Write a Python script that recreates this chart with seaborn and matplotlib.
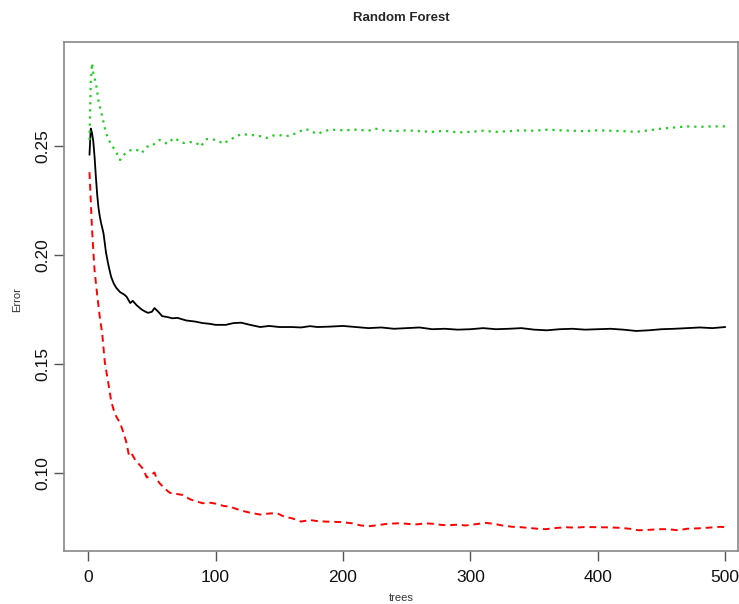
import numpy as np
import pandas as pd
import seaborn as sns
import matplotlib
matplotlib.use("Agg")
import matplotlib.pyplot as plt

# OOB error (black)
oob_trees = [1, 2, 3, 4, 5, 6, 7, 8, 9, 10, 12, 14, 16, 18, 20, 22, 25, 28, 30, 33, 35, 38,
             42, 45, 47, 50, 52, 55, 58, 62, 66, 70, 77, 84, 90, 95, 100, 108, 114, 120, 127,
             135, 142, 150, 160, 167, 174, 180, 190, 200, 210, 220, 230, 240, 250, 260, 270,
             280, 290, 300, 310, 320, 330, 340, 350, 360, 370, 380, 390, 400, 410, 420, 430,
             440, 450, 460, 470, 480, 490, 500]
oob_err = [0.246, 0.258, 0.256, 0.252, 0.245, 0.236, 0.228, 0.222, 0.218, 0.215, 0.210, 0.201,
           0.195, 0.190, 0.187, 0.185, 0.183, 0.182, 0.181, 0.178, 0.179, 0.177, 0.175, 0.174,
           0.1735, 0.174, 0.1757, 0.174, 0.172, 0.1716, 0.171, 0.1712, 0.170, 0.1695, 0.1688,
           0.1685, 0.168, 0.168, 0.1688, 0.169, 0.168, 0.167, 0.1675, 0.167, 0.167, 0.1668,
           0.1674, 0.167, 0.1672, 0.1675, 0.167, 0.1665, 0.1668, 0.1662, 0.1665, 0.1668, 0.166,
           0.1662, 0.1658, 0.166, 0.1665, 0.166, 0.1662, 0.1665, 0.1658, 0.1655, 0.166, 0.1662,
           0.1658, 0.166, 0.1662, 0.1658, 0.1652, 0.1655, 0.166, 0.1662, 0.1665, 0.1668, 0.1665,
           0.167]

# class 1 error (red, dashed)
c1_trees = [1, 2, 3, 4, 5, 7, 9, 11, 13, 15, 17, 18, 20, 22, 25, 28, 30, 32, 34, 37, 40, 43,
            46, 49, 52, 54, 56, 60, 64, 69, 74, 80, 85, 90, 95, 100, 106, 112, 119, 126, 135,
            142, 148, 154, 160, 167, 174, 180, 186, 192, 200, 207, 214, 221, 228, 235, 244, 250,
            256, 265, 272, 278, 283, 290, 296, 303, 312, 318, 325, 333, 340, 347, 353, 359, 366,
            375, 382, 390, 401, 410, 418, 425, 432, 440, 448, 455, 463, 470, 479, 487, 496, 500]
c1_err = [0.238, 0.225, 0.212, 0.202, 0.193, 0.182, 0.172, 0.164, 0.151, 0.144, 0.137, 0.133,
          0.129, 0.126, 0.123, 0.118, 0.114, 0.108, 0.109, 0.106, 0.104, 0.102, 0.098, 0.099,
          0.1003, 0.097, 0.0954, 0.093, 0.091, 0.0905, 0.090, 0.088, 0.087, 0.0862, 0.0865,
          0.086, 0.085, 0.0845, 0.083, 0.082, 0.081, 0.0815, 0.0817, 0.080, 0.0793, 0.0778,
          0.0785, 0.078, 0.0778, 0.0777, 0.0775, 0.077, 0.076, 0.0757, 0.0762, 0.0768, 0.077,
          0.0768, 0.0764, 0.077, 0.0767, 0.0762, 0.0761, 0.0764, 0.076, 0.0765, 0.0772, 0.0768,
          0.076, 0.0754, 0.0752, 0.0748, 0.0745, 0.0743, 0.0748, 0.0752, 0.075, 0.0753, 0.0752,
          0.0751, 0.0749, 0.0745, 0.0738, 0.074, 0.0743, 0.0743, 0.0738, 0.0745, 0.0747, 0.075,
          0.0754, 0.0752]

# class 2 error (green, dotted)
c2_trees = [1, 2, 3, 4, 5, 6, 7, 8, 10, 12, 14, 16, 18, 20, 22, 24, 25, 27, 30, 33, 36, 39,
            42, 46, 50, 53, 56, 59, 62, 65, 67, 71, 75, 80, 85, 88, 93, 97, 101, 106, 110, 114,
            120, 125, 129, 135, 140, 145, 150, 155, 160, 165, 171, 176, 180, 185, 190, 200, 210,
            220, 225, 232, 240, 250, 260, 270, 280, 290, 300, 310, 320, 330, 340, 350, 360, 370,
            380, 390, 400, 410, 420, 430, 440, 450, 460, 470, 480, 490, 500]
c2_err = [0.2528, 0.279, 0.288, 0.2835, 0.281, 0.279, 0.275, 0.271, 0.266, 0.261, 0.256,
          0.2528, 0.251, 0.249, 0.247, 0.245, 0.2436, 0.2455, 0.247, 0.248, 0.2485, 0.248,
          0.2468, 0.2497, 0.250, 0.2515, 0.2528, 0.252, 0.251, 0.2525, 0.2537, 0.2525, 0.2514,
          0.2518, 0.2514, 0.2497, 0.2532, 0.253, 0.2528, 0.251, 0.2525, 0.2537, 0.2555, 0.2552,
          0.255, 0.2545, 0.2537, 0.2548, 0.255, 0.2545, 0.255, 0.2565, 0.2578, 0.2565, 0.2555,
          0.2568, 0.2575, 0.2572, 0.2575, 0.257, 0.258, 0.2572, 0.2568, 0.2572, 0.2568, 0.2565,
          0.257, 0.2562, 0.2565, 0.257, 0.2565, 0.2568, 0.2572, 0.257, 0.2575, 0.2572, 0.257,
          0.2568, 0.2572, 0.257, 0.2568, 0.2565, 0.2572, 0.258, 0.2585, 0.259, 0.2588, 0.259,
          0.259]

sns.set_style("ticks")
plt.rcParams["font.family"] = ["Liberation Sans", "DejaVu Sans"]

fig = plt.figure(figsize=(7.39, 6.04), dpi=100)
ax = fig.add_axes([64 / 739, 1 - 551 / 604, 674 / 739, 509 / 604])

sns.lineplot(x=oob_trees, y=oob_err, ax=ax, color="black", lw=1.3, estimator=None)
sns.lineplot(x=c1_trees, y=c1_err, ax=ax, color="#ff0000", lw=1.4, estimator=None,
             dashes=False).lines[-1].set_dashes((3.5, 2.5))
sns.lineplot(x=c2_trees, y=c2_err, ax=ax, color="#22cc22", lw=1.6, estimator=None,
             dashes=False).lines[-1].set_dashes((1, 2.2))

ax.set_xlim(-19, 510)
ax.set_ylim(0.0643, 0.2977)
ax.set_xticks([0, 100, 200, 300, 400, 500])
ax.set_yticks([0.10, 0.15, 0.20, 0.25])
ax.set_yticklabels(["0.10", "0.15", "0.20", "0.25"], rotation=90, va="center")
ax.tick_params(axis="both", length=7, width=1, color="#555555", labelsize=12.5,
               labelcolor="#111111")
ax.tick_params(axis="x", pad=7)
ax.tick_params(axis="y", pad=3)
for s in ax.spines.values():
    s.set_color("#888888")
    s.set_linewidth(1.2)

fig.text(401 / 739, 1 - 18 / 604, "Random Forest", ha="center", va="center",
         fontsize=9.5, fontweight="bold")
fig.text(401 / 739, 1 - 598 / 604, "trees", ha="center", va="center", fontsize=8,
         color="#333333")
fig.text(17 / 739, 1 - 300 / 604, "Error", ha="center", va="center", rotation=90,
         fontsize=8, color="#333333")

fig.savefig("out.png", dpi=100)
